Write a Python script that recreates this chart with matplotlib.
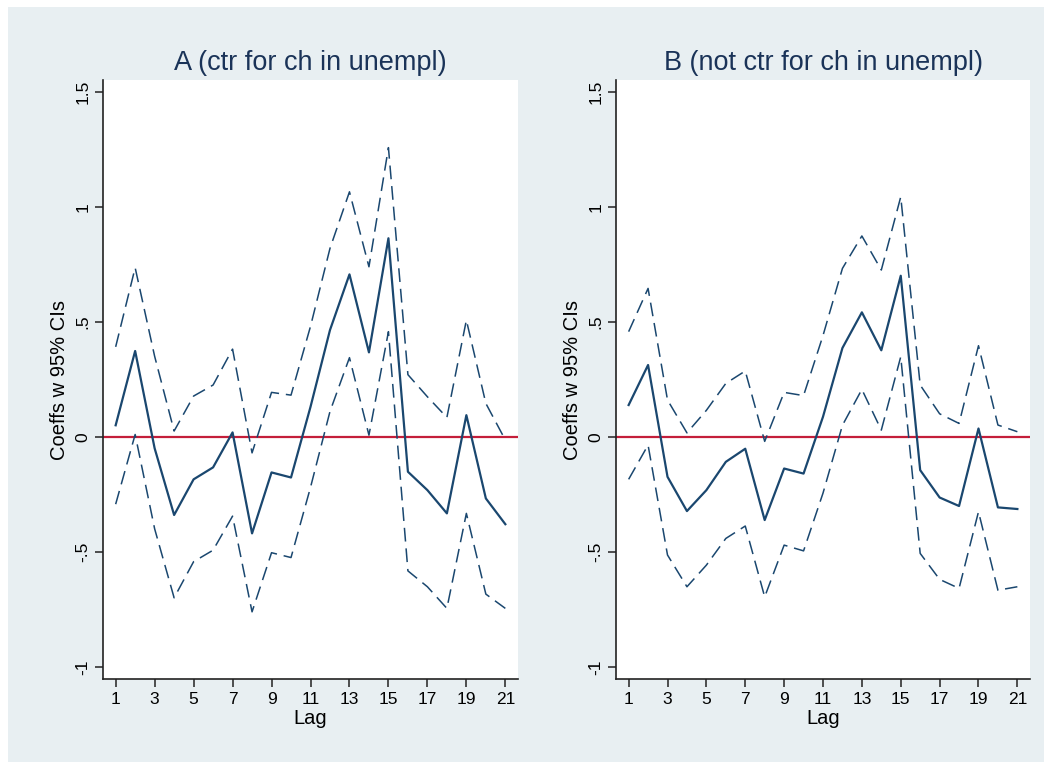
import matplotlib
matplotlib.use("Agg")
import matplotlib.pyplot as plt
from matplotlib.patches import Rectangle

lags = list(range(1, 22))

# Panel A (ctr for ch in unempl)
a_coef = [0.05, 0.373, -0.05, -0.34, -0.185, -0.133, 0.019, -0.42, -0.155, -0.177, 0.13,
          0.464, 0.706, 0.367, 0.863, -0.152, -0.232, -0.333, 0.094, -0.268, -0.38]
a_upper = [0.391, 0.735, 0.35, 0.025, 0.177, 0.225, 0.381, -0.07, 0.193, 0.181, 0.48,
           0.819, 1.065, 0.739, 1.257, 0.27, 0.174, 0.084, 0.507, 0.145, -0.014]
a_lower = [-0.293, 0.01, -0.40, -0.70, -0.543, -0.493, -0.345, -0.761, -0.504, -0.525, -0.22,
           0.11, 0.344, 0.007, 0.457, -0.583, -0.652, -0.746, -0.333, -0.684, -0.746]

# Panel B (not ctr for ch in unempl)
b_coef = [0.138, 0.312, -0.174, -0.323, -0.232, -0.109, -0.052, -0.362, -0.138, -0.16, 0.087,
          0.386, 0.541, 0.376, 0.70, -0.145, -0.264, -0.301, 0.036, -0.307, -0.314]
b_upper = [0.457, 0.645, 0.16, 0.017, 0.115, 0.232, 0.286, -0.02, 0.193, 0.179, 0.44,
           0.732, 0.873, 0.725, 1.043, 0.225, 0.10, 0.058, 0.396, 0.051, 0.022]
b_lower = [-0.185, -0.036, -0.514, -0.652, -0.558, -0.442, -0.388, -0.696, -0.471, -0.496, -0.245,
           0.05, 0.206, 0.029, 0.348, -0.507, -0.62, -0.659, -0.326, -0.667, -0.652]

titles = ["A (ctr for ch in unempl)", "B (not ctr for ch in unempl)"]
yticks = [-1, -0.5, 0, 0.5, 1, 1.5]
ytick_labels = ["-1", "-.5", "0", ".5", "1", "1.5"]
xticks = list(range(1, 22, 2))

plt.rcParams['font.family'] = ['Liberation Sans', 'DejaVu Sans']

bg = '#E8EFF2'
navy = '#1A476F'
red = '#C41E3A'
txt = '#000000'

fig = plt.figure(figsize=(10.5, 7.69), dpi=100, facecolor='white')
fig.patches.append(Rectangle((8/1050, 7/769), 1036/1050, 755/769, transform=fig.transFigure,
                             facecolor=bg, edgecolor='none', zorder=-10))

positions = [[103/1050, 1-679/769, 415/1050, 599/769],
             [616/1050, 1-679/769, 414/1050, 599/769]]
data = [(a_coef, a_upper, a_lower), (b_coef, b_upper, b_lower)]

for pos, title, (coef, up, lo) in zip(positions, titles, data):
    ax = fig.add_axes(pos)
    ax.set_facecolor('white')
    ax.axhline(0, color=red, lw=1.6, zorder=1)
    ax.plot(lags, up, color=navy, lw=1.1, ls=(0, (9, 4.5)), zorder=2)
    ax.plot(lags, lo, color=navy, lw=1.1, ls=(0, (9, 4.5)), zorder=2)
    ax.plot(lags, coef, color=navy, lw=1.6, zorder=3)
    ax.set_xlim(0.35, 21.65)
    ax.set_ylim(-1.053, 1.551)
    for s in ['top', 'right']:
        ax.spines[s].set_visible(False)
    for s in ['left', 'bottom']:
        ax.spines[s].set_color('#222222')
        ax.spines[s].set_linewidth(1.2)
    ax.set_yticks(yticks)
    ax.set_yticklabels(ytick_labels, rotation=90, va='center')
    ax.set_xticks(xticks)
    ax.set_xticklabels([str(x) for x in xticks])
    ax.tick_params(axis='both', direction='out', length=6, width=1.1, color='#222222',
                   labelsize=12.5, labelcolor=txt, pad=3)
    ax.set_title(title, fontsize=19.5, color='#1A3358', pad=7)
    ax.set_xlabel("Lag", fontsize=14.5, color=txt, labelpad=2)
    ax.set_ylabel("Coeffs w 95% CIs", fontsize=14.5, color=txt, labelpad=5)

fig.savefig("out.png", dpi=100, facecolor='white')
